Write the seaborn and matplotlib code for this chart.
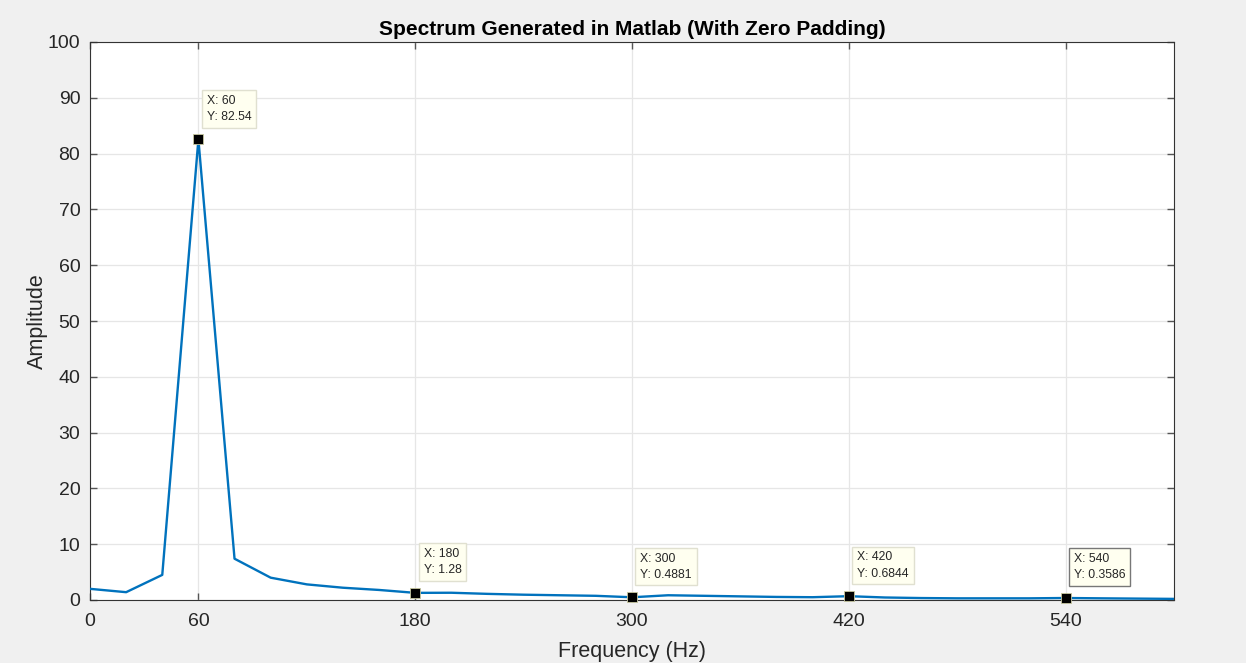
import matplotlib
matplotlib.use("Agg")
import matplotlib.pyplot as plt
import seaborn as sns
import pandas as pd

# ---- data ----
freq_hz = [0, 20, 40, 60, 80, 100, 120, 140, 160, 180, 200, 220, 240, 260, 280,
           300, 320, 340, 360, 380, 400, 420, 440, 460, 480, 500, 520, 540, 560, 580, 600]
amplitude = [2.0, 1.4, 4.5, 82.54, 7.4, 4.0, 2.8, 2.2, 1.8, 1.28, 1.3, 1.1, 0.95, 0.85, 0.75,
             0.4881, 0.85, 0.75, 0.65, 0.55, 0.5, 0.6844, 0.45, 0.35, 0.3, 0.3, 0.3, 0.3586, 0.3, 0.25, 0.2]
tip_x = [60, 180, 300, 420, 540]
tip_y = [82.54, 1.28, 0.4881, 0.6844, 0.3586]
tip_labels = ["X: 60\nY: 82.54", "X: 180\nY: 1.28", "X: 300\nY: 0.4881",
              "X: 420\nY: 0.6844", "X: 540\nY: 0.3586"]
x_ticks = [0, 60, 180, 300, 420, 540]
y_ticks = [0, 10, 20, 30, 40, 50, 60, 70, 80, 90, 100]
title = "Spectrum Generated in Matlab (With Zero Padding)"
x_label = "Frequency (Hz)"
y_label = "Amplitude"

sns.set_theme(style="whitegrid")
plt.rcParams['font.family'] = ['Liberation Sans', 'DejaVu Sans']

fig = plt.figure(figsize=(12.46, 6.63), dpi=100, facecolor="#f0f0f0")
ax = fig.add_axes([90/1246, 63/663, (1174-90)/1246, (600-42)/663])
ax.set_facecolor("white")

df = pd.DataFrame({"f": freq_hz, "a": amplitude})
sns.lineplot(data=df, x="f", y="a", ax=ax, color="#0072BD", linewidth=1.7, zorder=3)
tips = pd.DataFrame({"f": tip_x, "a": tip_y})
sns.scatterplot(data=tips, x="f", y="a", ax=ax, marker="s", color="black", s=55,
                edgecolor="#c8c8a0", linewidth=0.6, zorder=5, clip_on=False)

for i, (tx, ty, lab) in enumerate(zip(tip_x, tip_y, tip_labels)):
    ec = "#777777" if i == len(tip_x) - 1 else "#e0e0d0"
    ax.annotate(lab, xy=(tx, ty), xytext=(6, 12), textcoords="offset points",
                fontsize=8.8, ha="left", va="bottom", linespacing=1.45, zorder=6,
                bbox=dict(boxstyle="square,pad=0.4", fc="#fffff0", ec=ec, lw=1.0))

ax.set_xlim(0, 600)
ax.set_ylim(0, 100)
ax.set_xticks(x_ticks)
ax.set_yticks(y_ticks)
ax.grid(True, color="#e6e6e6", linewidth=0.9)
ax.tick_params(axis="both", direction="in", length=5, width=1, color="#555555",
               labelsize=14, labelcolor="#262626", top=True, right=True,
               bottom=True, left=True)
ax.tick_params(axis="x", pad=9)
ax.tick_params(axis="y", pad=7)
for s in ax.spines.values():
    s.set_color("#333333")
    s.set_linewidth(0.8)
ax.set_xlabel(x_label, fontsize=15.5, color="#262626", labelpad=8)
ax.set_ylabel(y_label, fontsize=15.5, color="#262626", labelpad=0)
ax.set_title(title, fontsize=15, fontweight="bold", color="black", pad=5)

fig.savefig("out.png", dpi=100, facecolor=fig.get_facecolor())
